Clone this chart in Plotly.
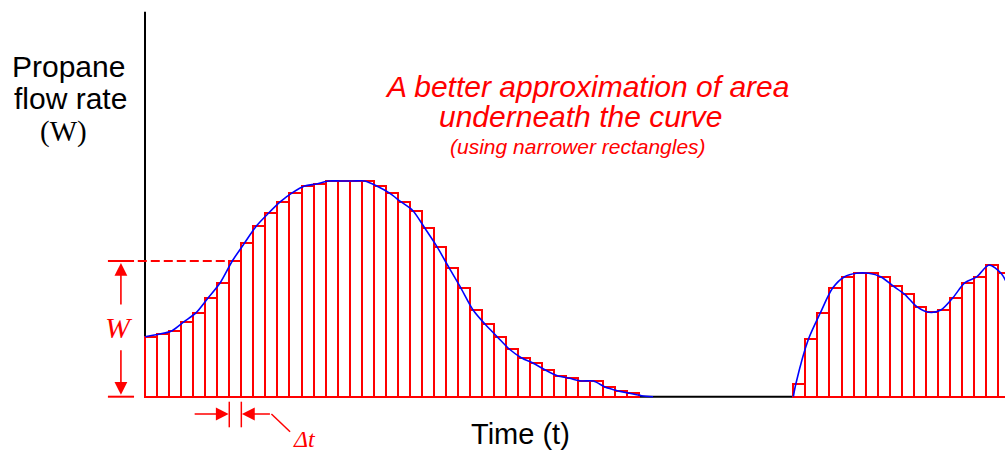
import plotly.graph_objects as go

# ---------------- data ----------------
# rectangle heights (flow rate W, arbitrary units) for the first hump, dt = 1 per rectangle
group1_start = 0.0
heights1 = [60.0, 62.7, 66.0, 75.0, 84.0, 99.0, 114.0, 135.7, 153.4, 170.7,
            183.4, 195.0, 204.0, 210.7, 212.7, 215.7, 215.7, 215.7, 215.7, 210.7,
            204.0, 195.0, 186.0, 168.4, 150.0, 129.0, 108.4, 86.7, 72.4, 60.0,
            47.7, 39.0, 33.4, 26.7, 21.0, 18.4, 15.7, 15.7, 9.4, 6.0, 3.4]
# second group of rectangles
group2_start = 53.85
heights2 = [12.4, 57.4, 84.0, 108.4, 120.0, 123.4, 123.4, 120.0, 111.0, 102.4,
            90.0, 84.4, 86.7, 99.0, 114.0, 120.0, 131.7, 123.4]

# smooth flow curve samples (time, flow)
curve1_t = [0.0, 1.25, 2.25, 3.25, 4.25, 5.25, 6.25, 7.25, 8.25, 9.25, 10.25,
            11.25, 12.25, 13.25, 14.25, 15.25, 16.25, 17.25, 18.25, 19.25, 20.25,
            21.25, 22.25, 23.25, 24.25, 25.25, 26.25, 27.25, 28.25, 29.25, 30.25,
            31.25, 32.25, 33.25, 34.25, 35.25, 36.25, 37.25, 38.25, 39.25, 40.25,
            41.25, 42.2]
curve1_w = heights1 + [1.0, 0.0]
curve2_t = [53.85, 54.05, 55.1, 56.1, 57.1, 58.1, 59.1, 60.1, 61.1, 62.1, 63.1,
            64.1, 65.1, 66.1, 67.1, 68.1, 69.1, 70.1, 71.1, 72.1]
curve2_w = [0.0] + heights2 + [100.0]

dt_index = 7          # rectangle used to illustrate W and delta t

# page geometry
PAGE_W, PAGE_H = 1005, 451
T0_PX, DT_PX = 145.0, 12.04      # page x of t=0 and pixels per rectangle
W0_PY = 396.7                    # page y of W=0 (1 unit = 1 px)
t_start = -T0_PX / DT_PX
t_end = (PAGE_W - T0_PX) / DT_PX
w_top = W0_PY
w_bottom = W0_PY - PAGE_H

# ---------------- figure ----------------
RED = "#ff0000"
fig = go.Figure()

x1 = [group1_start + i + 0.5 for i in range(len(heights1))]
x2 = [group2_start + i + 0.5 for i in range(len(heights2))]
for xs, hs in ((x1, heights1), (x2, heights2)):
    fig.add_trace(go.Bar(x=xs, y=hs, width=1.0,
                         marker=dict(color="white", line=dict(color=RED, width=2)),
                         hoverinfo="skip", showlegend=False))

for ts, ws in ((curve1_t, curve1_w), (curve2_t, curve2_w)):
    fig.add_trace(go.Scatter(x=ts, y=ws, mode="lines",
                             line=dict(color="#0000ff", width=1.6, shape="spline", smoothing=0.8),
                             hoverinfo="skip", showlegend=False))

shapes = []
# axes
shapes.append(dict(type="line", xref="x", yref="y", x0=0, x1=t_end + 1, y0=0, y1=0,
                   line=dict(color="black", width=2), layer="below"))
shapes.append(dict(type="line", xref="x", yref="y", x0=0, x1=0, y0=0, y1=385,
                   line=dict(color="black", width=2), layer="below"))
W = heights1[dt_index]
# W ticks and dashed guide
shapes.append(dict(type="line", xref="x", yref="y", x0=-3.08, x1=-0.91, y0=W, y1=W,
                   line=dict(color=RED, width=2)))
shapes.append(dict(type="line", xref="x", yref="y", x0=-0.6, x1=dt_index, y0=W, y1=W,
                   line=dict(color=RED, width=2, dash="9px,4px")))
shapes.append(dict(type="line", xref="x", yref="y", x0=-3.08, x1=-0.91, y0=0, y1=0,
                   line=dict(color=RED, width=2)))
# delta t ticks
for edge in (dt_index, dt_index + 1):
    shapes.append(dict(type="line", xref="x", yref="y", x0=edge, x1=edge, y0=-5, y1=-30.6,
                       line=dict(color=RED, width=1.5)))
# leader to delta t label
shapes.append(dict(type="line", xref="x", yref="y", x0=10.5, x1=12.05, y0=-17.3, y1=-35,
                   line=dict(color=RED, width=1.5)))

annotations = []
arrow_common = dict(xref="x", yref="y", axref="x", ayref="y", text="", showarrow=True,
                    arrowhead=2, arrowsize=1.6, arrowwidth=1.6, arrowcolor=RED)
# W arrows
annotations.append(dict(x=-2.0, y=W - 2, ax=-2.0, ay=W - 45, **arrow_common))
annotations.append(dict(x=-2.0, y=2, ax=-2.0, ay=48, **arrow_common))
# delta t arrows
annotations.append(dict(x=dt_index - 0.05, y=-17.3, ax=dt_index - 3.0, ay=-17.3, **arrow_common))
annotations.append(dict(x=dt_index + 1.05, y=-17.3, ax=dt_index + 3.5, ay=-17.3, **arrow_common))


def pax(px):
    return px / PAGE_W


def pay(py):
    return 1 - py / PAGE_H


def label(text, px, py, size, color="black", family="Liberation Sans"):
    annotations.append(dict(text=text, x=pax(px), y=pay(py), xref="paper", yref="paper",
                            xanchor="center", yanchor="middle", showarrow=False,
                            font=dict(size=size, color=color, family=family)))


label("Propane", 68, 66, 30)
label("flow rate", 70, 99, 30)
label("(W)", 64, 131, 29, family="Liberation Serif")
label("<i>A better approximation of area</i>", 587, 87, 30, RED)
label("<i>underneath the curve</i>", 581, 117, 30, RED)
label("<i>(using narrower rectangles)</i>", 578, 146, 21, RED)
label("<i>W</i>", 119, 327, 30, RED, "Liberation Serif")
label("<i>Δt</i>", 304, 439, 24, RED, "Liberation Serif")
label("Time (t)", 520, 434, 29)

fig.update_layout(
    width=PAGE_W, height=PAGE_H,
    margin=dict(l=0, r=0, t=0, b=0),
    paper_bgcolor="white", plot_bgcolor="white",
    xaxis=dict(range=[t_start, t_end], visible=False, fixedrange=True),
    yaxis=dict(range=[w_bottom, w_top], visible=False, fixedrange=True),
    bargap=0, shapes=shapes, annotations=annotations, showlegend=False,
)

fig.write_html("out.html", config={"displayModeBar": False},
               post_script="document.body.style.margin='0';document.body.style.overflow='hidden';")
